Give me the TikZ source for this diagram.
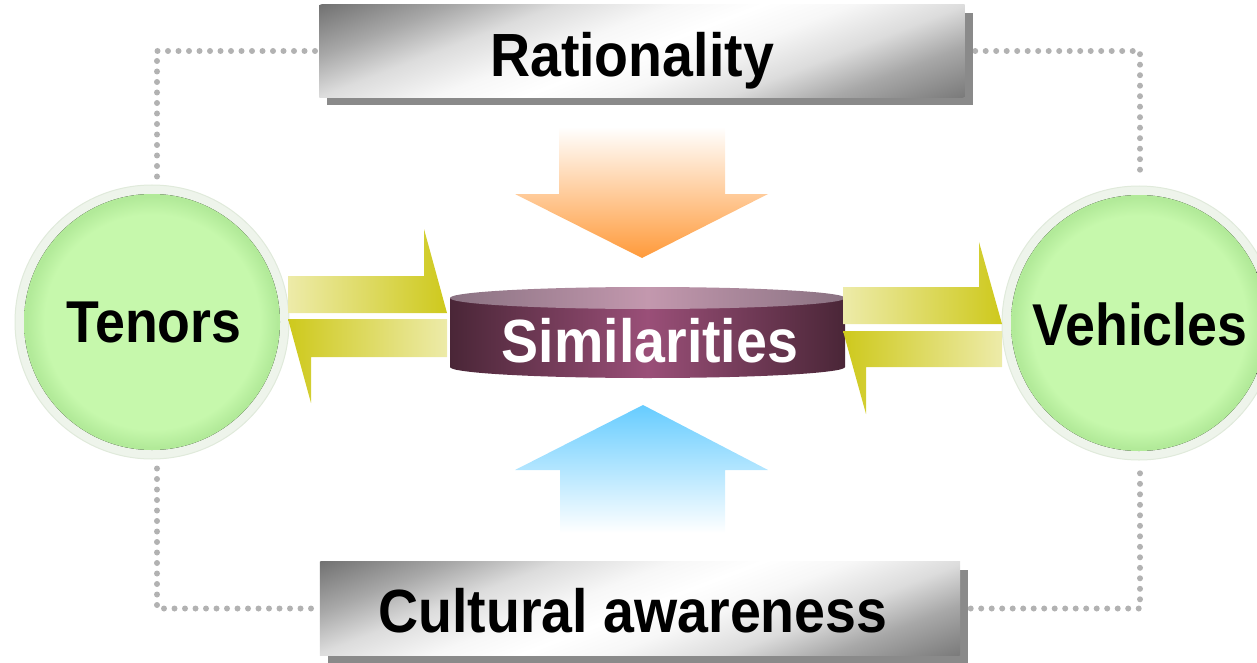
\documentclass[tikz,border=0pt]{standalone}
\usepackage{fontspec}
\setmainfont{Liberation Sans}
\newfontfamily\dfont[FakeStretch=0.91]{Liberation Sans}
\usetikzlibrary{calc}
\definecolor{ringc}{HTML}{EEF4EB}
\definecolor{ringe}{HTML}{E0EADB}
\definecolor{gin}{HTML}{C6F8AC}
\definecolor{gout}{HTML}{B2EA99}
\definecolor{shd}{HTML}{8A8A8A}
\definecolor{dotc}{HTML}{B2B2B2}
\definecolor{yl}{HTML}{EDEBA9}
\definecolor{yd}{HTML}{CEC91C}
\definecolor{cyd}{HTML}{4A2637}
\definecolor{cym}{HTML}{9A4F78}
\definecolor{ctd}{HTML}{8A7282}
\definecolor{ctm}{HTML}{C398AE}
\definecolor{org}{HTML}{FF9A3A}
\definecolor{blu}{HTML}{66CCFF}
\definecolor{g1}{HTML}{727272}
\definecolor{g2}{HTML}{A8A8A8}
\definecolor{g3}{HTML}{DCDCDC}
\definecolor{g4}{HTML}{F7F7F7}
\definecolor{g5}{HTML}{7A7A7A}
\pgfdeclareradialshading{greenball}{\pgfpoint{0bp}{0bp}}{color(0bp)=(gin); color(21bp)=(gin); color(24.5bp)=(gout); color(25bp)=(gout); color(50bp)=(gout)}
\pgfdeclareverticalshading{boxv}{100bp}{color(0bp)=(g5); color(25bp)=(g5); color(32.5bp)=(g2); color(38.5bp)=(g3); color(45bp)=(g4); color(50bp)=(white); color(55bp)=(g4); color(61.5bp)=(g3); color(67.5bp)=(g2); color(75bp)=(g1); color(100bp)=(g1)}
\tikzset{
  dotline/.style={draw=dotc, line width=6pt, line cap=round, dash pattern=on 0pt off 10.5pt},
  boxframe/.style={rectangle, minimum width=645pt, minimum height=92pt, inner sep=0pt},
  shadowfill/.style={fill=shd},
  ring/.style={circle, minimum size=274pt, inner sep=0pt, fill=ringc, draw=ringe, line width=1pt},
  boxlbl/.style={font=\dfont\bfseries\fontsize{61}{61}\selectfont, text=black, inner sep=0pt},
  circlbl/.style={font=\dfont\bfseries\fontsize{59}{59}\selectfont, text=black, inner sep=0pt},
  simlbl/.style={font=\dfont\bfseries\fontsize{61}{61}\selectfont, text=white, inner sep=0pt},
  yarrowR/.style={left color=yl, right color=yd},
  yarrowL/.style={left color=yd, right color=yl},
}
\newcommand{\gradboxfill}[1]{%
  \fill[shadowfill] ($(#1.south west)+(8,8)$) rectangle ($(#1.north east)+(8,8)$);
  \begin{scope}
    \clip (#1.south west) rectangle (#1.north east);
    \shade[shading=boxv, transform canvas={rotate around={21:(#1.center)}}]
      ($(#1.center)+(-420,-158.5)$) rectangle ($(#1.center)+(420,158.5)$);
  \end{scope}}
\begin{document}
\begin{tikzpicture}[x=1pt,y=-1pt]
\useasboundingbox (0,0) rectangle (1257,663);
\clip (0,0) rectangle (1257,663);
% circles
\node[ring] (ten) at (152,322) {};
\fill[shading=greenball] (ten.center) circle (128);
\node[ring] (veh) at (1139,323) {};
\fill[shading=greenball] (veh.center) circle (128);
% box frames
\node[boxframe] (rat) at (642,51) {};
\node[boxframe, minimum width=640pt, minimum height=93pt] (cul) at (640,608.5) {};
% dotted connectors
\draw[dotline] ($(ten.north)+(5,-8)$) |- (rat.west);
\draw[dotline] (rat.east) -| ($(veh.north)+(1,-6)$);
\draw[dotline] ($(ten.south)+(5,9)$) |- (cul.west);
\draw[dotline] (cul.east) -| ($(veh.south)+(1,7)$);
% gradient boxes
\gradboxfill{rat}
\gradboxfill{cul}
\node[boxlbl, anchor=base] (ratT) at (632,77) {Rationality};
\node[boxlbl, anchor=base] (culT) at (633,632) {Cultural awareness};
% orange and blue arrows
\shade[top color=white, bottom color=org] (559,127) -- (725,127) -- (725,194) -- (768,194) -- (642,258) -- (515,194) -- (559,194) -- cycle;
\shade[top color=blu, bottom color=white] (560,533) -- (725,533) -- (725,470) -- (768,470) -- (643,405) -- (515,470) -- (560,470) -- cycle;
% cylinder
\shade[left color=cyd, right color=cyd, middle color=cym] (450,298) -- (450,367) arc[start angle=180, end angle=0, x radius=197.5, y radius=11] -- (845,298) -- cycle;
\shade[left color=ctd, right color=ctd, middle color=ctm] (647.5,298) ellipse[x radius=197.5, y radius=11];
\node[simlbl, anchor=base] (sim) at (650,362) {Similarities};
% yellow half-arrows
\shade[yarrowR] (288,276) -- (424,276) -- (424,229) -- (447,313) -- (288,313) -- cycle;
\shade[yarrowL] (447,319) -- (288,319) -- (311,403) -- (311,357) -- (447,357) -- cycle;
\shade[yarrowR] (843,287) -- (979,287) -- (979,242) -- (1002,324) -- (843,324) -- cycle;
\shade[yarrowL] (1002,331) -- (843,331) -- (866,414) -- (866,367) -- (1002,367) -- cycle;
% circle labels
\node[circlbl, anchor=base] (tenT) at (154,342) {Tenors};
\node[circlbl, anchor=base] (vehT) at (1140,345) {Vehicles};
\end{tikzpicture}
\end{document}
